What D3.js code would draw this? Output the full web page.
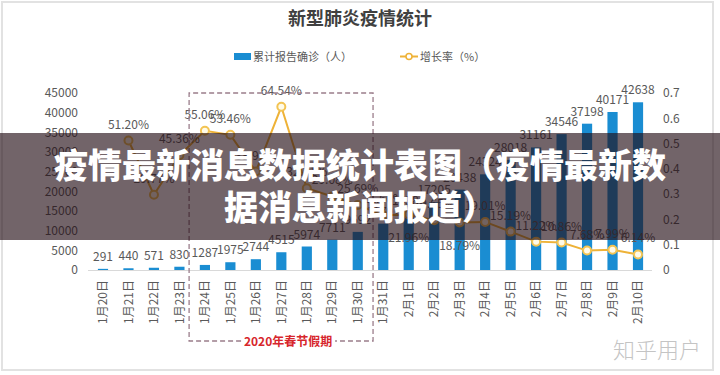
<!DOCTYPE html>
<html>
<head>
<meta charset="utf-8">
<script src="https://cdn.jsdelivr.net/npm/d3@7"></script>
<style>
    body { margin: 0; background: #fff; }
    svg { display: block; font-family: "Noto Sans CJK SC", "Noto Sans", sans-serif; }
</style>
</head>
<body>
<svg id="chart" width="720" height="375"></svg>
<script>
// Data
const dates = ["1月20日", "1月21日", "1月22日", "1月23日", "1月24日", "1月25日", "1月26日", "1月27日",
    "1月28日", "1月29日", "1月30日", "1月31日", "2月1日", "2月2日", "2月3日", "2月4日", "2月5日",
    "2月6日", "2月7日", "2月8日", "2月9日", "2月10日"];
const confirmed = [291, 440, 571, 830, 1287, 1975, 2744, 4515, 5974, 7711, 9692, 11791, 14380,
    17205, 20438, 24324, 28018, 31161, 34546, 37198, 40171, 42638];
const growth = [null, 0.5120, 0.2977, 0.4536, 0.5506, 0.5346, 0.3894, 0.6454, 0.3231, 0.2908,
    0.2569, 0.2166, 0.2196, 0.1965, 0.1879, 0.1901, 0.1519, 0.1122, 0.1086, 0.0768, 0.0799, 0.0614];
const leftTicks = [0, 5000, 10000, 15000, 20000, 25000, 30000, 35000, 40000, 45000];
const rightTicks = [0, 0.1, 0.2, 0.3, 0.4, 0.5, 0.6, 0.7];
const holidayStart = "1月24日";
const holidayEnd = "1月30日";
// rate labels that sit under their point in the original
const labelsBelow = ["2月1日", "2月3日"];

const barColor = "#1a8dd2";
const lineColor = "#eeb237";
const textColor = "#595959";

const svg = d3.select("#chart");

// light frame round the screenshot
svg.append("rect")
    .attr("x", 2).attr("y", 2)
    .attr("width", 711).attr("height", 368)
    .attr("fill", "#fff")
    .attr("stroke", "#e2e2e2")
    .attr("stroke-width", 2);

svg.append("text")
    .attr("x", 360).attr("y", 25)
    .attr("text-anchor", "middle")
    .attr("font-size", 18)
    .attr("font-weight", "bold")
    .attr("fill", "#404040")
    .text("新型肺炎疫情统计");

// Legend
const legend = svg.append("g").attr("font-size", 11).attr("fill", textColor);
legend.append("rect")
    .attr("x", 234).attr("y", 53)
    .attr("width", 17).attr("height", 7)
    .attr("fill", barColor);
legend.append("text").attr("x", 253).attr("y", 60.5).text("累计报告确诊（人）");
legend.append("line")
    .attr("x1", 400).attr("x2", 418).attr("y1", 56.5).attr("y2", 56.5)
    .attr("stroke", lineColor).attr("stroke-width", 2);
legend.append("circle")
    .attr("cx", 409).attr("cy", 56.5).attr("r", 3)
    .attr("fill", "#fff").attr("stroke", lineColor).attr("stroke-width", 1.5);
legend.append("text").attr("x", 420).attr("y", 60.5).text("增长率（%）");

// Scales
const x = d3.scaleBand()
    .domain(dates)
    .range([90.25, 650.75])
    .paddingInner(0.6)
    .paddingOuter(0.3);
const yLeft = d3.scaleLinear().domain([0, 45000]).range([270, 93]);
const yRight = d3.scaleLinear().domain([0, 0.7]).range([270, 93]);
const cx = d => x(d) + x.bandwidth() / 2;

// Axes (only tick labels and the base line are visible)
const leftAxis = svg.append("g")
    .attr("transform", "translate(82,0)")
    .call(d3.axisLeft(yLeft).tickValues(leftTicks).tickFormat(d3.format("d")).tickSize(0).tickPadding(4));
const rightAxis = svg.append("g")
    .attr("transform", "translate(662,0)")
    .call(d3.axisRight(yRight).tickValues(rightTicks).tickFormat(d => d === 0 ? "0" : d3.format(".1f")(d)).tickSize(0).tickPadding(1));
[leftAxis, rightAxis].forEach(a => {
    a.select(".domain").remove();
    a.selectAll("text")
        .attr("font-size", 12)
        .attr("fill", textColor)
        .attr("font-family", "\"Noto Sans CJK SC\", sans-serif");
});

const bottomAxis = svg.append("g")
    .attr("transform", "translate(0,270)")
    .call(d3.axisBottom(x).tickSize(0).tickPadding(0));
bottomAxis.select(".domain").attr("stroke", "#d9d9d9").attr("d", "M88,0.5H652");
bottomAxis.selectAll("text")
    .attr("font-size", 12)
    .attr("fill", textColor)
    .attr("font-family", "\"Noto Sans CJK SC\", sans-serif")
    .attr("text-anchor", "end")
    .attr("dy", "0.35em")
    .attr("transform", "translate(0,10) rotate(-90)");

// Bars
const barData = dates.map((d, i) => ({ date: d, value: confirmed[i] }));
svg.append("g")
    .selectAll("rect")
    .data(barData)
    .join("rect")
    .attr("x", d => x(d.date))
    .attr("width", x.bandwidth())
    .attr("y", d => yLeft(d.value))
    .attr("height", d => yLeft(0) - yLeft(d.value))
    .attr("fill", barColor);

svg.append("g")
    .attr("font-size", 12)
    .attr("fill", textColor)
    .attr("text-anchor", "middle")
    .selectAll("text")
    .data(barData)
    .join("text")
    .attr("x", d => cx(d.date))
    .attr("y", d => yLeft(d.value) - 8)
    .text(d => d.value);

// Growth rate line
const rateData = dates.map((d, i) => ({ date: d, value: growth[i] })).filter(d => d.value !== null);
svg.append("path")
    .datum(rateData)
    .attr("fill", "none")
    .attr("stroke", lineColor)
    .attr("stroke-width", 2)
    .attr("d", d3.line().x(d => cx(d.date)).y(d => yRight(d.value)));

svg.append("g")
    .selectAll("circle")
    .data(rateData)
    .join("circle")
    .attr("cx", d => cx(d.date))
    .attr("cy", d => yRight(d.value))
    .attr("r", 4)
    .attr("fill", "#fffbe8")
    .attr("stroke", "#f3c453")
    .attr("stroke-width", 2);

svg.append("g")
    .attr("font-size", 12)
    .attr("fill", textColor)
    .attr("text-anchor", "middle")
    .selectAll("text")
    .data(rateData)
    .join("text")
    .attr("x", d => cx(d.date))
    .attr("y", d => labelsBelow.includes(d.date) ? yRight(d.value) + 28 : yRight(d.value) - 12)
    .text(d => d3.format(".2%")(d.value));

// Spring festival box
const boxLeft = x(holidayStart) - x.step() * 0.42;
const boxRight = x(holidayEnd) + x.bandwidth() + x.step() * 0.4;
const boxTop = 93;
const boxBottom = 341;
const boxMid = (boxLeft + boxRight) / 2 + 7;
const dashStyle = g => g.attr("stroke", "#9b7d8b").attr("stroke-width", 1.3).attr("stroke-dasharray", "5,3").attr("fill", "none");
svg.append("path")
    .attr("d", `M${boxMid - 47},${boxBottom}H${boxLeft}V${boxTop}H${boxRight}V${boxBottom}H${boxMid + 47}`)
    .call(dashStyle);
svg.append("text")
    .attr("x", boxMid).attr("y", boxBottom + 4.5)
    .attr("text-anchor", "middle")
    .attr("font-size", 12)
    .attr("font-weight", "bold")
    .attr("fill", "#d7262c")
    .text("2020年春节假期");

// Watermark
svg.append("text")
    .attr("x", 657).attr("y", 358)
    .attr("text-anchor", "middle")
    .attr("font-size", 22)
    .attr("font-weight", 300)
    .attr("fill", "#c4c4c4")
    .text("知乎用户");

// Headline banner over the chart
svg.append("rect")
    .attr("x", 0).attr("y", 133)
    .attr("width", 720).attr("height", 107)
    .attr("fill", "rgb(34,12,20)")
    .attr("fill-opacity", 0.64);
const banner = svg.append("g")
    .attr("font-size", 34)
    .attr("font-weight", 900)
    .attr("fill", "#fff")
    .attr("text-anchor", "middle");
banner.append("text").attr("x", 360).attr("y", 178).text("疫情最新消息数据统计表图（疫情最新数");
banner.append("text").attr("x", 360).attr("y", 220).text("据消息新闻报道）");
</script>
</body>
</html>
